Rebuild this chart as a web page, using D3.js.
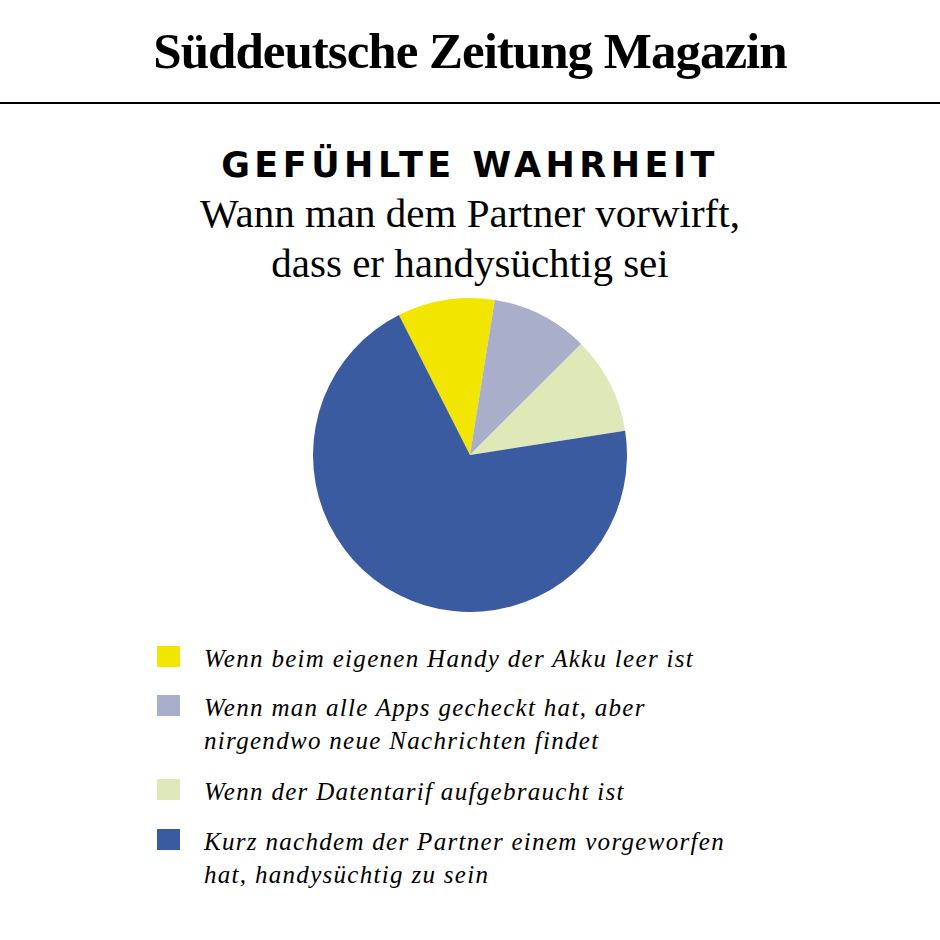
<!DOCTYPE html><html><head><meta charset="utf-8">
<script src="https://cdn.jsdelivr.net/npm/d3@7"></script>
<style>body{margin:0;background:#fff}</style></head><body>
<script>
const labels=[["Wenn beim eigenen Handy der Akku leer ist"],["Wenn man alle Apps gecheckt hat, aber","nirgendwo neue Nachrichten findet"],["Wenn der Datentarif aufgebraucht ist"],["Kurz nachdem der Partner einem vorgeworfen","hat, handysüchtig zu sein"]];
const values=[10,10,10,70];
const colors=["#f2e600","#a9aecb","#dfe8b8","#3a5ba0"];
const svg=d3.select("body").append("svg").attr("width",940).attr("height",940);
svg.append("text").attr("x",470).attr("y",68).attr("text-anchor","middle").attr("font-family","Liberation Serif").attr("font-weight","bold").attr("font-size",51).attr("letter-spacing",-1).text("Süddeutsche Zeitung Magazin");
svg.append("line").attr("x1",0).attr("x2",940).attr("y1",103).attr("y2",103).attr("stroke","#000").attr("stroke-width",2);
svg.append("text").attr("x",470).attr("y",177).attr("text-anchor","middle").attr("font-family","DejaVu Sans").attr("font-weight","bold").attr("font-size",35).attr("letter-spacing",4.5).text("GEFÜHLTE WAHRHEIT");
["Wann man dem Partner vorwirft,","dass er handysüchtig sei"].forEach((t,i)=>svg.append("text").attr("x",470).attr("y",227+i*50).attr("text-anchor","middle").attr("font-family","Liberation Serif").attr("font-size",41).text(t));
const pie=d3.pie().sort(null).startAngle(-0.47).endAngle(-0.47+2*Math.PI)(values);
const arc=d3.arc().innerRadius(0).outerRadius(157);
svg.append("g").attr("transform","translate(470,455)").selectAll("path").data(pie).join("path").attr("d",arc).attr("fill",(d,i)=>colors[i]);
const ys=[659,708,792,842];
labels.forEach((l,i)=>{
 svg.append("rect").attr("x",157).attr("y",ys[i]-13).attr("width",23).attr("height",21).attr("fill",colors[i]);
 l.forEach((t,j)=>svg.append("text").attr("x",204).attr("y",ys[i]+8+j*33).attr("font-family","Liberation Serif").attr("font-style","italic").attr("font-size",25).attr("letter-spacing",1.3).text(t));
});
</script></body></html>
